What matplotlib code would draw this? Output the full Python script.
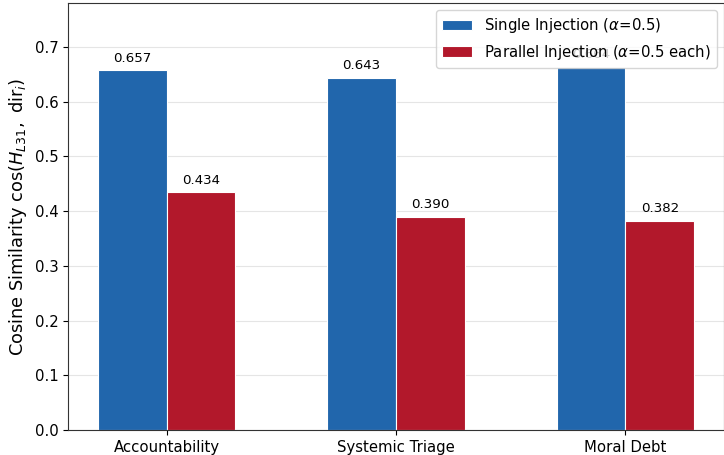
import matplotlib
matplotlib.use("Agg")
import matplotlib.pyplot as plt
import numpy as np

categories = ["Accountability", "Systemic Triage", "Moral Debt"]
single = [0.657, 0.643, 0.664]
parallel = [0.434, 0.390, 0.382]
labels = [r"Single Injection ($\alpha$=0.5)", r"Parallel Injection ($\alpha$=0.5 each)"]

fig = plt.figure(figsize=(7.24, 4.55), dpi=100)
ax = fig.add_axes([68/724, 25/455, 656/724, 427/455])

x = np.arange(len(categories))
w = 0.3
b1 = ax.bar(x - w/2, single, w, color="#2166ac", edgecolor="white", linewidth=0.8, label=labels[0], zorder=2)
b2 = ax.bar(x + w/2, parallel, w, color="#b2182b", edgecolor="white", linewidth=0.8, label=labels[1], zorder=2)
for bars in (b1, b2):
    for r in bars:
        ax.annotate(f"{r.get_height():.3f}", (r.get_x() + r.get_width()/2, r.get_height()),
                    xytext=(0, 4), textcoords="offset points", ha="center", va="bottom", fontsize=9.6, zorder=1)

ax.set_xticks(x)
ax.set_xticklabels(categories)
ax.set_xlim(-0.43, 2.43)
ax.set_ylim(0, 0.78)
ax.set_yticks(np.arange(0, 0.71, 0.1))
ax.tick_params(labelsize=10.7)
ax.set_ylabel(r"Cosine Similarity $\cos(H_{L31},\ \mathrm{dir}_i)$", fontsize=12.8)
ax.yaxis.grid(True, color="#e5e5e5", linewidth=0.8, zorder=0)
ax.set_axisbelow(True)
for s in ax.spines.values():
    s.set_color("#333333")
leg = ax.legend(loc="upper right", fontsize=10.7, framealpha=0.8)
leg.set_zorder(5)
fig.savefig("out.png", dpi=100)
